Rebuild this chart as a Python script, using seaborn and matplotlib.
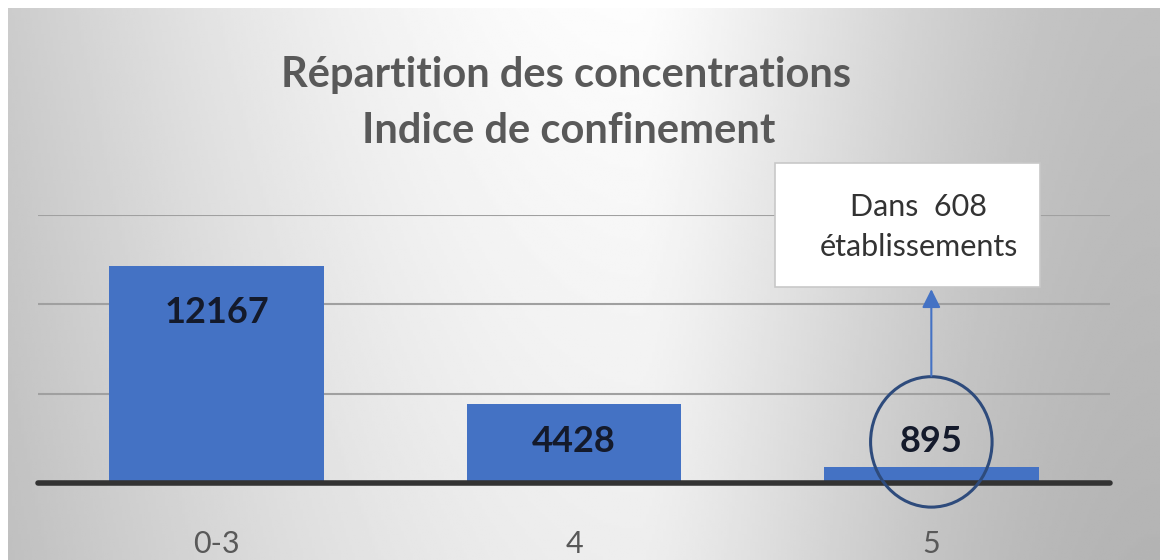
import numpy as np
import pandas as pd
import matplotlib
matplotlib.use("Agg")
import matplotlib.pyplot as plt
from matplotlib.patches import Rectangle, Ellipse
import seaborn as sns

# =============================================================================
# DATA
# =============================================================================

categories = ["0-3", "4", "5"]
counts = [12167, 4428, 895]
title_lines = ["Répartition des concentrations", "Indice de confinement"]
callout_text = "Dans  608\nétablissements"
highlight_category = "5"

BAR_COLOR = "#4472C4"
TEXT_GRAY = "#595959"

# =============================================================================
# PLOT
# =============================================================================

sns.set_style("white")
plt.rcParams["font.family"] = ["Lato", "DejaVu Sans"]

fig = plt.figure(figsize=(11.6, 5.6), dpi=100)
fig.patch.set_facecolor("white")

# gradient background (grey edges, light centre)
bg = fig.add_axes([8 / 1160, 0, 1 - 8 / 1160, 552 / 560], zorder=-2)
u = np.linspace(0, 1, 400)
v = np.linspace(0, 1, 200)
U, V = np.meshgrid(u, v)
horiz = np.where(U < 0.55, 0.80 + 0.19 * np.sin(U / 0.55 * np.pi / 2),
                 0.99 - 0.24 * np.sin((U - 0.55) / 0.45 * np.pi / 2) ** 1.3)
vert = 1 - 0.06 * V
bg.imshow(horiz * vert, cmap="gray", vmin=0, vmax=1, aspect="auto",
          extent=[0, 1, 0, 1], origin="upper")
bg.axis("off")

ax = fig.add_axes([38 / 1160, 77 / 560, 1072 / 1160, 268 / 560])
ax.set_facecolor("none")

df = pd.DataFrame({"cat": categories, "n": counts})
sns.barplot(data=df, x="cat", y="n", color=BAR_COLOR, width=0.6,
            saturation=1, linewidth=0, ax=ax, zorder=2)

ax.set_ylim(0, 15000)
ax.set_xlim(-0.5, 2.5)
ax.set_yticks([5000, 10000, 15000])
ax.yaxis.grid(True, color="#a0a0a0", lw=1.5, zorder=1)
ax.set_axisbelow(True)
ax.tick_params(axis="y", left=False, labelleft=False)
ax.tick_params(axis="x", bottom=False, labelsize=22, labelcolor=TEXT_GRAY, pad=30)
ax.set_xlabel("")
ax.set_ylabel("")
for s in ax.spines.values():
    s.set_visible(False)
ax.axhline(0, color="#333333", lw=4, zorder=3, clip_on=False)

# value labels
for i, n in enumerate(counts):
    y = n - 2600 if n > 10000 else 2300
    ax.text(i, y, str(n), ha="center", va="center", fontsize=26,
            fontweight="bold", color="#141a2b", zorder=4)

# title
fig.text(0.488, 1 - 75 / 560, title_lines[0], ha="center", va="center",
         fontsize=30, fontweight="bold", color=TEXT_GRAY)
fig.text(0.49, 1 - 131 / 560, title_lines[1], ha="center",
         va="center", fontsize=30, fontweight="bold", color=TEXT_GRAY)

# circle around the small bar
hi = categories.index(highlight_category)
ax.add_patch(Ellipse((hi, 2300), 0.34, 7300, fill=False, ec="#2E4B7C",
                     lw=2.2, zorder=5, clip_on=False))

# callout box and arrow
fig.patches.append(Rectangle((775 / 1160, 1 - 287 / 560), 265 / 1160, 124 / 560,
                             transform=fig.transFigure, fc="white",
                             ec="#c8c8c8", lw=1.2, zorder=1))
fig.text(919 / 1160, 1 - 227 / 560, callout_text, ha="center", va="center",
         fontsize=22, color="#333333", linespacing=1.55, zorder=2)
ax.annotate("", xy=(hi, 10850), xytext=(hi, 6000),
            arrowprops=dict(arrowstyle="-|>", color=BAR_COLOR, lw=1.5,
                            mutation_scale=28, shrinkA=0, shrinkB=0),
            annotation_clip=False, zorder=5)

fig.savefig("out.png", dpi=100)
